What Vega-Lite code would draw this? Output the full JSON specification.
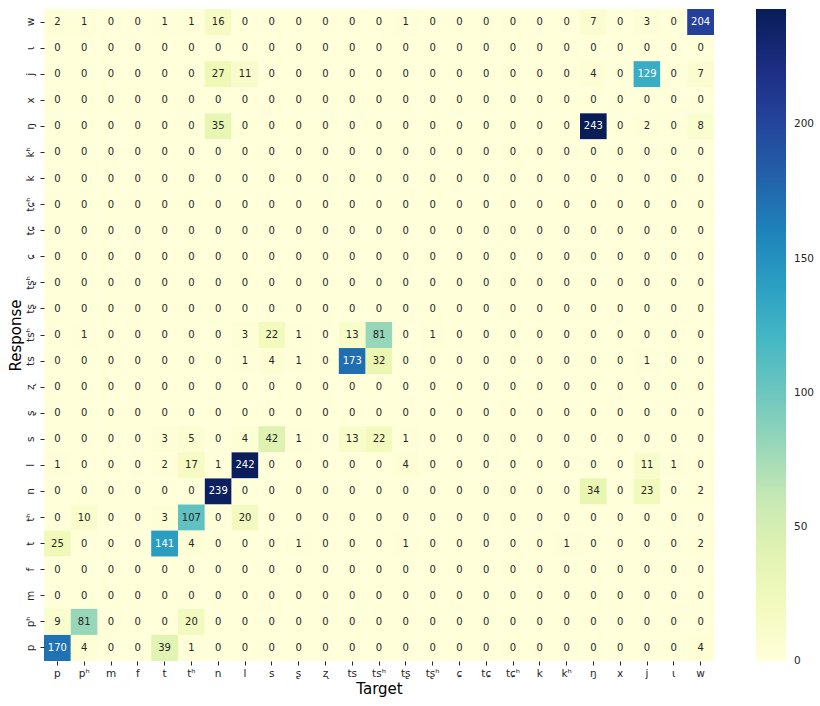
{
"$schema": "https://vega.github.io/schema/vega-lite/v6.json",
"width": 670, "height": 652,
"autosize": {"type": "none"},
"padding": {"left": 44, "top": 9, "right": 106, "bottom": 45},
"config": {"view": {"stroke": null}, "font": "DejaVu Sans"},
"data": {"values": [
{"r":"w","t":"p","v":2},{"r":"w","t":"pʰ","v":1},{"r":"w","t":"m","v":0},{"r":"w","t":"f","v":0},{"r":"w","t":"t","v":1},{"r":"w","t":"tʰ","v":1},{"r":"w","t":"n","v":16},{"r":"w","t":"l","v":0},{"r":"w","t":"s","v":0},{"r":"w","t":"ʂ","v":0},{"r":"w","t":"ʐ","v":0},{"r":"w","t":"ts","v":0},{"r":"w","t":"tsʰ","v":0},{"r":"w","t":"tʂ","v":1},{"r":"w","t":"tʂʰ","v":0},{"r":"w","t":"ɕ","v":0},{"r":"w","t":"tɕ","v":0},{"r":"w","t":"tɕʰ","v":0},{"r":"w","t":"k","v":0},{"r":"w","t":"kʰ","v":0},{"r":"w","t":"ŋ","v":7},{"r":"w","t":"x","v":0},{"r":"w","t":"j","v":3},{"r":"w","t":"ɩ","v":0},{"r":"w","t":"w","v":204},
{"r":"ɩ","t":"p","v":0},{"r":"ɩ","t":"pʰ","v":0},{"r":"ɩ","t":"m","v":0},{"r":"ɩ","t":"f","v":0},{"r":"ɩ","t":"t","v":0},{"r":"ɩ","t":"tʰ","v":0},{"r":"ɩ","t":"n","v":0},{"r":"ɩ","t":"l","v":0},{"r":"ɩ","t":"s","v":0},{"r":"ɩ","t":"ʂ","v":0},{"r":"ɩ","t":"ʐ","v":0},{"r":"ɩ","t":"ts","v":0},{"r":"ɩ","t":"tsʰ","v":0},{"r":"ɩ","t":"tʂ","v":0},{"r":"ɩ","t":"tʂʰ","v":0},{"r":"ɩ","t":"ɕ","v":0},{"r":"ɩ","t":"tɕ","v":0},{"r":"ɩ","t":"tɕʰ","v":0},{"r":"ɩ","t":"k","v":0},{"r":"ɩ","t":"kʰ","v":0},{"r":"ɩ","t":"ŋ","v":0},{"r":"ɩ","t":"x","v":0},{"r":"ɩ","t":"j","v":0},{"r":"ɩ","t":"ɩ","v":0},{"r":"ɩ","t":"w","v":0},
{"r":"j","t":"p","v":0},{"r":"j","t":"pʰ","v":0},{"r":"j","t":"m","v":0},{"r":"j","t":"f","v":0},{"r":"j","t":"t","v":0},{"r":"j","t":"tʰ","v":0},{"r":"j","t":"n","v":27},{"r":"j","t":"l","v":11},{"r":"j","t":"s","v":0},{"r":"j","t":"ʂ","v":0},{"r":"j","t":"ʐ","v":0},{"r":"j","t":"ts","v":0},{"r":"j","t":"tsʰ","v":0},{"r":"j","t":"tʂ","v":0},{"r":"j","t":"tʂʰ","v":0},{"r":"j","t":"ɕ","v":0},{"r":"j","t":"tɕ","v":0},{"r":"j","t":"tɕʰ","v":0},{"r":"j","t":"k","v":0},{"r":"j","t":"kʰ","v":0},{"r":"j","t":"ŋ","v":4},{"r":"j","t":"x","v":0},{"r":"j","t":"j","v":129},{"r":"j","t":"ɩ","v":0},{"r":"j","t":"w","v":7},
{"r":"x","t":"p","v":0},{"r":"x","t":"pʰ","v":0},{"r":"x","t":"m","v":0},{"r":"x","t":"f","v":0},{"r":"x","t":"t","v":0},{"r":"x","t":"tʰ","v":0},{"r":"x","t":"n","v":0},{"r":"x","t":"l","v":0},{"r":"x","t":"s","v":0},{"r":"x","t":"ʂ","v":0},{"r":"x","t":"ʐ","v":0},{"r":"x","t":"ts","v":0},{"r":"x","t":"tsʰ","v":0},{"r":"x","t":"tʂ","v":0},{"r":"x","t":"tʂʰ","v":0},{"r":"x","t":"ɕ","v":0},{"r":"x","t":"tɕ","v":0},{"r":"x","t":"tɕʰ","v":0},{"r":"x","t":"k","v":0},{"r":"x","t":"kʰ","v":0},{"r":"x","t":"ŋ","v":0},{"r":"x","t":"x","v":0},{"r":"x","t":"j","v":0},{"r":"x","t":"ɩ","v":0},{"r":"x","t":"w","v":0},
{"r":"ŋ","t":"p","v":0},{"r":"ŋ","t":"pʰ","v":0},{"r":"ŋ","t":"m","v":0},{"r":"ŋ","t":"f","v":0},{"r":"ŋ","t":"t","v":0},{"r":"ŋ","t":"tʰ","v":0},{"r":"ŋ","t":"n","v":35},{"r":"ŋ","t":"l","v":0},{"r":"ŋ","t":"s","v":0},{"r":"ŋ","t":"ʂ","v":0},{"r":"ŋ","t":"ʐ","v":0},{"r":"ŋ","t":"ts","v":0},{"r":"ŋ","t":"tsʰ","v":0},{"r":"ŋ","t":"tʂ","v":0},{"r":"ŋ","t":"tʂʰ","v":0},{"r":"ŋ","t":"ɕ","v":0},{"r":"ŋ","t":"tɕ","v":0},{"r":"ŋ","t":"tɕʰ","v":0},{"r":"ŋ","t":"k","v":0},{"r":"ŋ","t":"kʰ","v":0},{"r":"ŋ","t":"ŋ","v":243},{"r":"ŋ","t":"x","v":0},{"r":"ŋ","t":"j","v":2},{"r":"ŋ","t":"ɩ","v":0},{"r":"ŋ","t":"w","v":8},
{"r":"kʰ","t":"p","v":0},{"r":"kʰ","t":"pʰ","v":0},{"r":"kʰ","t":"m","v":0},{"r":"kʰ","t":"f","v":0},{"r":"kʰ","t":"t","v":0},{"r":"kʰ","t":"tʰ","v":0},{"r":"kʰ","t":"n","v":0},{"r":"kʰ","t":"l","v":0},{"r":"kʰ","t":"s","v":0},{"r":"kʰ","t":"ʂ","v":0},{"r":"kʰ","t":"ʐ","v":0},{"r":"kʰ","t":"ts","v":0},{"r":"kʰ","t":"tsʰ","v":0},{"r":"kʰ","t":"tʂ","v":0},{"r":"kʰ","t":"tʂʰ","v":0},{"r":"kʰ","t":"ɕ","v":0},{"r":"kʰ","t":"tɕ","v":0},{"r":"kʰ","t":"tɕʰ","v":0},{"r":"kʰ","t":"k","v":0},{"r":"kʰ","t":"kʰ","v":0},{"r":"kʰ","t":"ŋ","v":0},{"r":"kʰ","t":"x","v":0},{"r":"kʰ","t":"j","v":0},{"r":"kʰ","t":"ɩ","v":0},{"r":"kʰ","t":"w","v":0},
{"r":"k","t":"p","v":0},{"r":"k","t":"pʰ","v":0},{"r":"k","t":"m","v":0},{"r":"k","t":"f","v":0},{"r":"k","t":"t","v":0},{"r":"k","t":"tʰ","v":0},{"r":"k","t":"n","v":0},{"r":"k","t":"l","v":0},{"r":"k","t":"s","v":0},{"r":"k","t":"ʂ","v":0},{"r":"k","t":"ʐ","v":0},{"r":"k","t":"ts","v":0},{"r":"k","t":"tsʰ","v":0},{"r":"k","t":"tʂ","v":0},{"r":"k","t":"tʂʰ","v":0},{"r":"k","t":"ɕ","v":0},{"r":"k","t":"tɕ","v":0},{"r":"k","t":"tɕʰ","v":0},{"r":"k","t":"k","v":0},{"r":"k","t":"kʰ","v":0},{"r":"k","t":"ŋ","v":0},{"r":"k","t":"x","v":0},{"r":"k","t":"j","v":0},{"r":"k","t":"ɩ","v":0},{"r":"k","t":"w","v":0},
{"r":"tɕʰ","t":"p","v":0},{"r":"tɕʰ","t":"pʰ","v":0},{"r":"tɕʰ","t":"m","v":0},{"r":"tɕʰ","t":"f","v":0},{"r":"tɕʰ","t":"t","v":0},{"r":"tɕʰ","t":"tʰ","v":0},{"r":"tɕʰ","t":"n","v":0},{"r":"tɕʰ","t":"l","v":0},{"r":"tɕʰ","t":"s","v":0},{"r":"tɕʰ","t":"ʂ","v":0},{"r":"tɕʰ","t":"ʐ","v":0},{"r":"tɕʰ","t":"ts","v":0},{"r":"tɕʰ","t":"tsʰ","v":0},{"r":"tɕʰ","t":"tʂ","v":0},{"r":"tɕʰ","t":"tʂʰ","v":0},{"r":"tɕʰ","t":"ɕ","v":0},{"r":"tɕʰ","t":"tɕ","v":0},{"r":"tɕʰ","t":"tɕʰ","v":0},{"r":"tɕʰ","t":"k","v":0},{"r":"tɕʰ","t":"kʰ","v":0},{"r":"tɕʰ","t":"ŋ","v":0},{"r":"tɕʰ","t":"x","v":0},{"r":"tɕʰ","t":"j","v":0},{"r":"tɕʰ","t":"ɩ","v":0},{"r":"tɕʰ","t":"w","v":0},
{"r":"tɕ","t":"p","v":0},{"r":"tɕ","t":"pʰ","v":0},{"r":"tɕ","t":"m","v":0},{"r":"tɕ","t":"f","v":0},{"r":"tɕ","t":"t","v":0},{"r":"tɕ","t":"tʰ","v":0},{"r":"tɕ","t":"n","v":0},{"r":"tɕ","t":"l","v":0},{"r":"tɕ","t":"s","v":0},{"r":"tɕ","t":"ʂ","v":0},{"r":"tɕ","t":"ʐ","v":0},{"r":"tɕ","t":"ts","v":0},{"r":"tɕ","t":"tsʰ","v":0},{"r":"tɕ","t":"tʂ","v":0},{"r":"tɕ","t":"tʂʰ","v":0},{"r":"tɕ","t":"ɕ","v":0},{"r":"tɕ","t":"tɕ","v":0},{"r":"tɕ","t":"tɕʰ","v":0},{"r":"tɕ","t":"k","v":0},{"r":"tɕ","t":"kʰ","v":0},{"r":"tɕ","t":"ŋ","v":0},{"r":"tɕ","t":"x","v":0},{"r":"tɕ","t":"j","v":0},{"r":"tɕ","t":"ɩ","v":0},{"r":"tɕ","t":"w","v":0},
{"r":"ɕ","t":"p","v":0},{"r":"ɕ","t":"pʰ","v":0},{"r":"ɕ","t":"m","v":0},{"r":"ɕ","t":"f","v":0},{"r":"ɕ","t":"t","v":0},{"r":"ɕ","t":"tʰ","v":0},{"r":"ɕ","t":"n","v":0},{"r":"ɕ","t":"l","v":0},{"r":"ɕ","t":"s","v":0},{"r":"ɕ","t":"ʂ","v":0},{"r":"ɕ","t":"ʐ","v":0},{"r":"ɕ","t":"ts","v":0},{"r":"ɕ","t":"tsʰ","v":0},{"r":"ɕ","t":"tʂ","v":0},{"r":"ɕ","t":"tʂʰ","v":0},{"r":"ɕ","t":"ɕ","v":0},{"r":"ɕ","t":"tɕ","v":0},{"r":"ɕ","t":"tɕʰ","v":0},{"r":"ɕ","t":"k","v":0},{"r":"ɕ","t":"kʰ","v":0},{"r":"ɕ","t":"ŋ","v":0},{"r":"ɕ","t":"x","v":0},{"r":"ɕ","t":"j","v":0},{"r":"ɕ","t":"ɩ","v":0},{"r":"ɕ","t":"w","v":0},
{"r":"tʂʰ","t":"p","v":0},{"r":"tʂʰ","t":"pʰ","v":0},{"r":"tʂʰ","t":"m","v":0},{"r":"tʂʰ","t":"f","v":0},{"r":"tʂʰ","t":"t","v":0},{"r":"tʂʰ","t":"tʰ","v":0},{"r":"tʂʰ","t":"n","v":0},{"r":"tʂʰ","t":"l","v":0},{"r":"tʂʰ","t":"s","v":0},{"r":"tʂʰ","t":"ʂ","v":0},{"r":"tʂʰ","t":"ʐ","v":0},{"r":"tʂʰ","t":"ts","v":0},{"r":"tʂʰ","t":"tsʰ","v":0},{"r":"tʂʰ","t":"tʂ","v":0},{"r":"tʂʰ","t":"tʂʰ","v":0},{"r":"tʂʰ","t":"ɕ","v":0},{"r":"tʂʰ","t":"tɕ","v":0},{"r":"tʂʰ","t":"tɕʰ","v":0},{"r":"tʂʰ","t":"k","v":0},{"r":"tʂʰ","t":"kʰ","v":0},{"r":"tʂʰ","t":"ŋ","v":0},{"r":"tʂʰ","t":"x","v":0},{"r":"tʂʰ","t":"j","v":0},{"r":"tʂʰ","t":"ɩ","v":0},{"r":"tʂʰ","t":"w","v":0},
{"r":"tʂ","t":"p","v":0},{"r":"tʂ","t":"pʰ","v":0},{"r":"tʂ","t":"m","v":0},{"r":"tʂ","t":"f","v":0},{"r":"tʂ","t":"t","v":0},{"r":"tʂ","t":"tʰ","v":0},{"r":"tʂ","t":"n","v":0},{"r":"tʂ","t":"l","v":0},{"r":"tʂ","t":"s","v":0},{"r":"tʂ","t":"ʂ","v":0},{"r":"tʂ","t":"ʐ","v":0},{"r":"tʂ","t":"ts","v":0},{"r":"tʂ","t":"tsʰ","v":0},{"r":"tʂ","t":"tʂ","v":0},{"r":"tʂ","t":"tʂʰ","v":0},{"r":"tʂ","t":"ɕ","v":0},{"r":"tʂ","t":"tɕ","v":0},{"r":"tʂ","t":"tɕʰ","v":0},{"r":"tʂ","t":"k","v":0},{"r":"tʂ","t":"kʰ","v":0},{"r":"tʂ","t":"ŋ","v":0},{"r":"tʂ","t":"x","v":0},{"r":"tʂ","t":"j","v":0},{"r":"tʂ","t":"ɩ","v":0},{"r":"tʂ","t":"w","v":0},
{"r":"tsʰ","t":"p","v":0},{"r":"tsʰ","t":"pʰ","v":1},{"r":"tsʰ","t":"m","v":0},{"r":"tsʰ","t":"f","v":0},{"r":"tsʰ","t":"t","v":0},{"r":"tsʰ","t":"tʰ","v":0},{"r":"tsʰ","t":"n","v":0},{"r":"tsʰ","t":"l","v":3},{"r":"tsʰ","t":"s","v":22},{"r":"tsʰ","t":"ʂ","v":1},{"r":"tsʰ","t":"ʐ","v":0},{"r":"tsʰ","t":"ts","v":13},{"r":"tsʰ","t":"tsʰ","v":81},{"r":"tsʰ","t":"tʂ","v":0},{"r":"tsʰ","t":"tʂʰ","v":1},{"r":"tsʰ","t":"ɕ","v":0},{"r":"tsʰ","t":"tɕ","v":0},{"r":"tsʰ","t":"tɕʰ","v":0},{"r":"tsʰ","t":"k","v":0},{"r":"tsʰ","t":"kʰ","v":0},{"r":"tsʰ","t":"ŋ","v":0},{"r":"tsʰ","t":"x","v":0},{"r":"tsʰ","t":"j","v":0},{"r":"tsʰ","t":"ɩ","v":0},{"r":"tsʰ","t":"w","v":0},
{"r":"ts","t":"p","v":0},{"r":"ts","t":"pʰ","v":0},{"r":"ts","t":"m","v":0},{"r":"ts","t":"f","v":0},{"r":"ts","t":"t","v":0},{"r":"ts","t":"tʰ","v":0},{"r":"ts","t":"n","v":0},{"r":"ts","t":"l","v":1},{"r":"ts","t":"s","v":4},{"r":"ts","t":"ʂ","v":1},{"r":"ts","t":"ʐ","v":0},{"r":"ts","t":"ts","v":173},{"r":"ts","t":"tsʰ","v":32},{"r":"ts","t":"tʂ","v":0},{"r":"ts","t":"tʂʰ","v":0},{"r":"ts","t":"ɕ","v":0},{"r":"ts","t":"tɕ","v":0},{"r":"ts","t":"tɕʰ","v":0},{"r":"ts","t":"k","v":0},{"r":"ts","t":"kʰ","v":0},{"r":"ts","t":"ŋ","v":0},{"r":"ts","t":"x","v":0},{"r":"ts","t":"j","v":1},{"r":"ts","t":"ɩ","v":0},{"r":"ts","t":"w","v":0},
{"r":"ʐ","t":"p","v":0},{"r":"ʐ","t":"pʰ","v":0},{"r":"ʐ","t":"m","v":0},{"r":"ʐ","t":"f","v":0},{"r":"ʐ","t":"t","v":0},{"r":"ʐ","t":"tʰ","v":0},{"r":"ʐ","t":"n","v":0},{"r":"ʐ","t":"l","v":0},{"r":"ʐ","t":"s","v":0},{"r":"ʐ","t":"ʂ","v":0},{"r":"ʐ","t":"ʐ","v":0},{"r":"ʐ","t":"ts","v":0},{"r":"ʐ","t":"tsʰ","v":0},{"r":"ʐ","t":"tʂ","v":0},{"r":"ʐ","t":"tʂʰ","v":0},{"r":"ʐ","t":"ɕ","v":0},{"r":"ʐ","t":"tɕ","v":0},{"r":"ʐ","t":"tɕʰ","v":0},{"r":"ʐ","t":"k","v":0},{"r":"ʐ","t":"kʰ","v":0},{"r":"ʐ","t":"ŋ","v":0},{"r":"ʐ","t":"x","v":0},{"r":"ʐ","t":"j","v":0},{"r":"ʐ","t":"ɩ","v":0},{"r":"ʐ","t":"w","v":0},
{"r":"ʂ","t":"p","v":0},{"r":"ʂ","t":"pʰ","v":0},{"r":"ʂ","t":"m","v":0},{"r":"ʂ","t":"f","v":0},{"r":"ʂ","t":"t","v":0},{"r":"ʂ","t":"tʰ","v":0},{"r":"ʂ","t":"n","v":0},{"r":"ʂ","t":"l","v":0},{"r":"ʂ","t":"s","v":0},{"r":"ʂ","t":"ʂ","v":0},{"r":"ʂ","t":"ʐ","v":0},{"r":"ʂ","t":"ts","v":0},{"r":"ʂ","t":"tsʰ","v":0},{"r":"ʂ","t":"tʂ","v":0},{"r":"ʂ","t":"tʂʰ","v":0},{"r":"ʂ","t":"ɕ","v":0},{"r":"ʂ","t":"tɕ","v":0},{"r":"ʂ","t":"tɕʰ","v":0},{"r":"ʂ","t":"k","v":0},{"r":"ʂ","t":"kʰ","v":0},{"r":"ʂ","t":"ŋ","v":0},{"r":"ʂ","t":"x","v":0},{"r":"ʂ","t":"j","v":0},{"r":"ʂ","t":"ɩ","v":0},{"r":"ʂ","t":"w","v":0},
{"r":"s","t":"p","v":0},{"r":"s","t":"pʰ","v":0},{"r":"s","t":"m","v":0},{"r":"s","t":"f","v":0},{"r":"s","t":"t","v":3},{"r":"s","t":"tʰ","v":5},{"r":"s","t":"n","v":0},{"r":"s","t":"l","v":4},{"r":"s","t":"s","v":42},{"r":"s","t":"ʂ","v":1},{"r":"s","t":"ʐ","v":0},{"r":"s","t":"ts","v":13},{"r":"s","t":"tsʰ","v":22},{"r":"s","t":"tʂ","v":1},{"r":"s","t":"tʂʰ","v":0},{"r":"s","t":"ɕ","v":0},{"r":"s","t":"tɕ","v":0},{"r":"s","t":"tɕʰ","v":0},{"r":"s","t":"k","v":0},{"r":"s","t":"kʰ","v":0},{"r":"s","t":"ŋ","v":0},{"r":"s","t":"x","v":0},{"r":"s","t":"j","v":0},{"r":"s","t":"ɩ","v":0},{"r":"s","t":"w","v":0},
{"r":"l","t":"p","v":1},{"r":"l","t":"pʰ","v":0},{"r":"l","t":"m","v":0},{"r":"l","t":"f","v":0},{"r":"l","t":"t","v":2},{"r":"l","t":"tʰ","v":17},{"r":"l","t":"n","v":1},{"r":"l","t":"l","v":242},{"r":"l","t":"s","v":0},{"r":"l","t":"ʂ","v":0},{"r":"l","t":"ʐ","v":0},{"r":"l","t":"ts","v":0},{"r":"l","t":"tsʰ","v":0},{"r":"l","t":"tʂ","v":4},{"r":"l","t":"tʂʰ","v":0},{"r":"l","t":"ɕ","v":0},{"r":"l","t":"tɕ","v":0},{"r":"l","t":"tɕʰ","v":0},{"r":"l","t":"k","v":0},{"r":"l","t":"kʰ","v":0},{"r":"l","t":"ŋ","v":0},{"r":"l","t":"x","v":0},{"r":"l","t":"j","v":11},{"r":"l","t":"ɩ","v":1},{"r":"l","t":"w","v":0},
{"r":"n","t":"p","v":0},{"r":"n","t":"pʰ","v":0},{"r":"n","t":"m","v":0},{"r":"n","t":"f","v":0},{"r":"n","t":"t","v":0},{"r":"n","t":"tʰ","v":0},{"r":"n","t":"n","v":239},{"r":"n","t":"l","v":0},{"r":"n","t":"s","v":0},{"r":"n","t":"ʂ","v":0},{"r":"n","t":"ʐ","v":0},{"r":"n","t":"ts","v":0},{"r":"n","t":"tsʰ","v":0},{"r":"n","t":"tʂ","v":0},{"r":"n","t":"tʂʰ","v":0},{"r":"n","t":"ɕ","v":0},{"r":"n","t":"tɕ","v":0},{"r":"n","t":"tɕʰ","v":0},{"r":"n","t":"k","v":0},{"r":"n","t":"kʰ","v":0},{"r":"n","t":"ŋ","v":34},{"r":"n","t":"x","v":0},{"r":"n","t":"j","v":23},{"r":"n","t":"ɩ","v":0},{"r":"n","t":"w","v":2},
{"r":"tʰ","t":"p","v":0},{"r":"tʰ","t":"pʰ","v":10},{"r":"tʰ","t":"m","v":0},{"r":"tʰ","t":"f","v":0},{"r":"tʰ","t":"t","v":3},{"r":"tʰ","t":"tʰ","v":107},{"r":"tʰ","t":"n","v":0},{"r":"tʰ","t":"l","v":20},{"r":"tʰ","t":"s","v":0},{"r":"tʰ","t":"ʂ","v":0},{"r":"tʰ","t":"ʐ","v":0},{"r":"tʰ","t":"ts","v":0},{"r":"tʰ","t":"tsʰ","v":0},{"r":"tʰ","t":"tʂ","v":0},{"r":"tʰ","t":"tʂʰ","v":0},{"r":"tʰ","t":"ɕ","v":0},{"r":"tʰ","t":"tɕ","v":0},{"r":"tʰ","t":"tɕʰ","v":0},{"r":"tʰ","t":"k","v":0},{"r":"tʰ","t":"kʰ","v":0},{"r":"tʰ","t":"ŋ","v":0},{"r":"tʰ","t":"x","v":0},{"r":"tʰ","t":"j","v":0},{"r":"tʰ","t":"ɩ","v":0},{"r":"tʰ","t":"w","v":0},
{"r":"t","t":"p","v":25},{"r":"t","t":"pʰ","v":0},{"r":"t","t":"m","v":0},{"r":"t","t":"f","v":0},{"r":"t","t":"t","v":141},{"r":"t","t":"tʰ","v":4},{"r":"t","t":"n","v":0},{"r":"t","t":"l","v":0},{"r":"t","t":"s","v":0},{"r":"t","t":"ʂ","v":1},{"r":"t","t":"ʐ","v":0},{"r":"t","t":"ts","v":0},{"r":"t","t":"tsʰ","v":0},{"r":"t","t":"tʂ","v":1},{"r":"t","t":"tʂʰ","v":0},{"r":"t","t":"ɕ","v":0},{"r":"t","t":"tɕ","v":0},{"r":"t","t":"tɕʰ","v":0},{"r":"t","t":"k","v":0},{"r":"t","t":"kʰ","v":1},{"r":"t","t":"ŋ","v":0},{"r":"t","t":"x","v":0},{"r":"t","t":"j","v":0},{"r":"t","t":"ɩ","v":0},{"r":"t","t":"w","v":2},
{"r":"f","t":"p","v":0},{"r":"f","t":"pʰ","v":0},{"r":"f","t":"m","v":0},{"r":"f","t":"f","v":0},{"r":"f","t":"t","v":0},{"r":"f","t":"tʰ","v":0},{"r":"f","t":"n","v":0},{"r":"f","t":"l","v":0},{"r":"f","t":"s","v":0},{"r":"f","t":"ʂ","v":0},{"r":"f","t":"ʐ","v":0},{"r":"f","t":"ts","v":0},{"r":"f","t":"tsʰ","v":0},{"r":"f","t":"tʂ","v":0},{"r":"f","t":"tʂʰ","v":0},{"r":"f","t":"ɕ","v":0},{"r":"f","t":"tɕ","v":0},{"r":"f","t":"tɕʰ","v":0},{"r":"f","t":"k","v":0},{"r":"f","t":"kʰ","v":0},{"r":"f","t":"ŋ","v":0},{"r":"f","t":"x","v":0},{"r":"f","t":"j","v":0},{"r":"f","t":"ɩ","v":0},{"r":"f","t":"w","v":0},
{"r":"m","t":"p","v":0},{"r":"m","t":"pʰ","v":0},{"r":"m","t":"m","v":0},{"r":"m","t":"f","v":0},{"r":"m","t":"t","v":0},{"r":"m","t":"tʰ","v":0},{"r":"m","t":"n","v":0},{"r":"m","t":"l","v":0},{"r":"m","t":"s","v":0},{"r":"m","t":"ʂ","v":0},{"r":"m","t":"ʐ","v":0},{"r":"m","t":"ts","v":0},{"r":"m","t":"tsʰ","v":0},{"r":"m","t":"tʂ","v":0},{"r":"m","t":"tʂʰ","v":0},{"r":"m","t":"ɕ","v":0},{"r":"m","t":"tɕ","v":0},{"r":"m","t":"tɕʰ","v":0},{"r":"m","t":"k","v":0},{"r":"m","t":"kʰ","v":0},{"r":"m","t":"ŋ","v":0},{"r":"m","t":"x","v":0},{"r":"m","t":"j","v":0},{"r":"m","t":"ɩ","v":0},{"r":"m","t":"w","v":0},
{"r":"pʰ","t":"p","v":9},{"r":"pʰ","t":"pʰ","v":81},{"r":"pʰ","t":"m","v":0},{"r":"pʰ","t":"f","v":0},{"r":"pʰ","t":"t","v":0},{"r":"pʰ","t":"tʰ","v":20},{"r":"pʰ","t":"n","v":0},{"r":"pʰ","t":"l","v":0},{"r":"pʰ","t":"s","v":0},{"r":"pʰ","t":"ʂ","v":0},{"r":"pʰ","t":"ʐ","v":0},{"r":"pʰ","t":"ts","v":0},{"r":"pʰ","t":"tsʰ","v":0},{"r":"pʰ","t":"tʂ","v":0},{"r":"pʰ","t":"tʂʰ","v":0},{"r":"pʰ","t":"ɕ","v":0},{"r":"pʰ","t":"tɕ","v":0},{"r":"pʰ","t":"tɕʰ","v":0},{"r":"pʰ","t":"k","v":0},{"r":"pʰ","t":"kʰ","v":0},{"r":"pʰ","t":"ŋ","v":0},{"r":"pʰ","t":"x","v":0},{"r":"pʰ","t":"j","v":0},{"r":"pʰ","t":"ɩ","v":0},{"r":"pʰ","t":"w","v":0},
{"r":"p","t":"p","v":170},{"r":"p","t":"pʰ","v":4},{"r":"p","t":"m","v":0},{"r":"p","t":"f","v":0},{"r":"p","t":"t","v":39},{"r":"p","t":"tʰ","v":1},{"r":"p","t":"n","v":0},{"r":"p","t":"l","v":0},{"r":"p","t":"s","v":0},{"r":"p","t":"ʂ","v":0},{"r":"p","t":"ʐ","v":0},{"r":"p","t":"ts","v":0},{"r":"p","t":"tsʰ","v":0},{"r":"p","t":"tʂ","v":0},{"r":"p","t":"tʂʰ","v":0},{"r":"p","t":"ɕ","v":0},{"r":"p","t":"tɕ","v":0},{"r":"p","t":"tɕʰ","v":0},{"r":"p","t":"k","v":0},{"r":"p","t":"kʰ","v":0},{"r":"p","t":"ŋ","v":0},{"r":"p","t":"x","v":0},{"r":"p","t":"j","v":0},{"r":"p","t":"ɩ","v":0},{"r":"p","t":"w","v":4}
]},
"encoding": {
  "x": {"field": "t", "type": "nominal",
    "sort": ["p","pʰ","m","f","t","tʰ","n","l","s","ʂ","ʐ","ts","tsʰ","tʂ","tʂʰ","ɕ","tɕ","tɕʰ","k","kʰ","ŋ","x","j","ɩ","w"],
    "scale": {"paddingInner": 0, "paddingOuter": 0},
    "axis": {"title": "Target", "labelAngle": 0, "domain": false, "tickSize": 4, "tickColor": "#262626", "labelColor": "#262626", "labelFontSize": 10.5, "labelPadding": 3, "titleFontSize": 15, "titleFontWeight": "normal", "titleColor": "#000000", "titlePadding": 3}},
  "y": {"field": "r", "type": "nominal",
    "sort": ["w","ɩ","j","x","ŋ","kʰ","k","tɕʰ","tɕ","ɕ","tʂʰ","tʂ","tsʰ","ts","ʐ","ʂ","s","l","n","tʰ","t","f","m","pʰ","p"],
    "scale": {"paddingInner": 0, "paddingOuter": 0},
    "axis": {"title": "Response", "labelAngle": -90, "domain": false, "tickSize": 4, "tickColor": "#262626", "labelColor": "#262626", "labelFontSize": 10.5, "labelPadding": 5, "titleFontSize": 15, "titleFontWeight": "normal", "titleColor": "#000000", "titlePadding": 2}}
},
"layer": [
  {"mark": {"type": "rect"},
   "encoding": {"color": {"field": "v", "type": "quantitative",
     "scale": {"domain": [0, 30.375, 60.75, 91.125, 121.5, 151.875, 182.25, 212.625, 243], "range": ["#ffffd9", "#edf8b1", "#c7e9b4", "#7fcdbb", "#41b6c4", "#1d91c0", "#225ea8", "#253494", "#081d58"], "interpolate": "rgb"},
     "legend": {"title": null, "orient": "right", "direction": "vertical", "gradientLength": 652, "gradientThickness": 30, "offset": 42, "values": [0, 50, 100, 150, 200], "labelFontSize": 10.5, "labelColor": "#262626", "labelOffset": 8, "gradientStrokeWidth": 0,
       "encode": {"labels": {"update": {"baseline": {"value": "middle"}}}}}}}},
  {"mark": {"type": "text", "fontSize": 10},
   "encoding": {"text": {"field": "v", "type": "quantitative"},
     "color": {"condition": {"test": "datum.v > 115", "value": "#ffffff"}, "value": "#262626"}}}
]
}
